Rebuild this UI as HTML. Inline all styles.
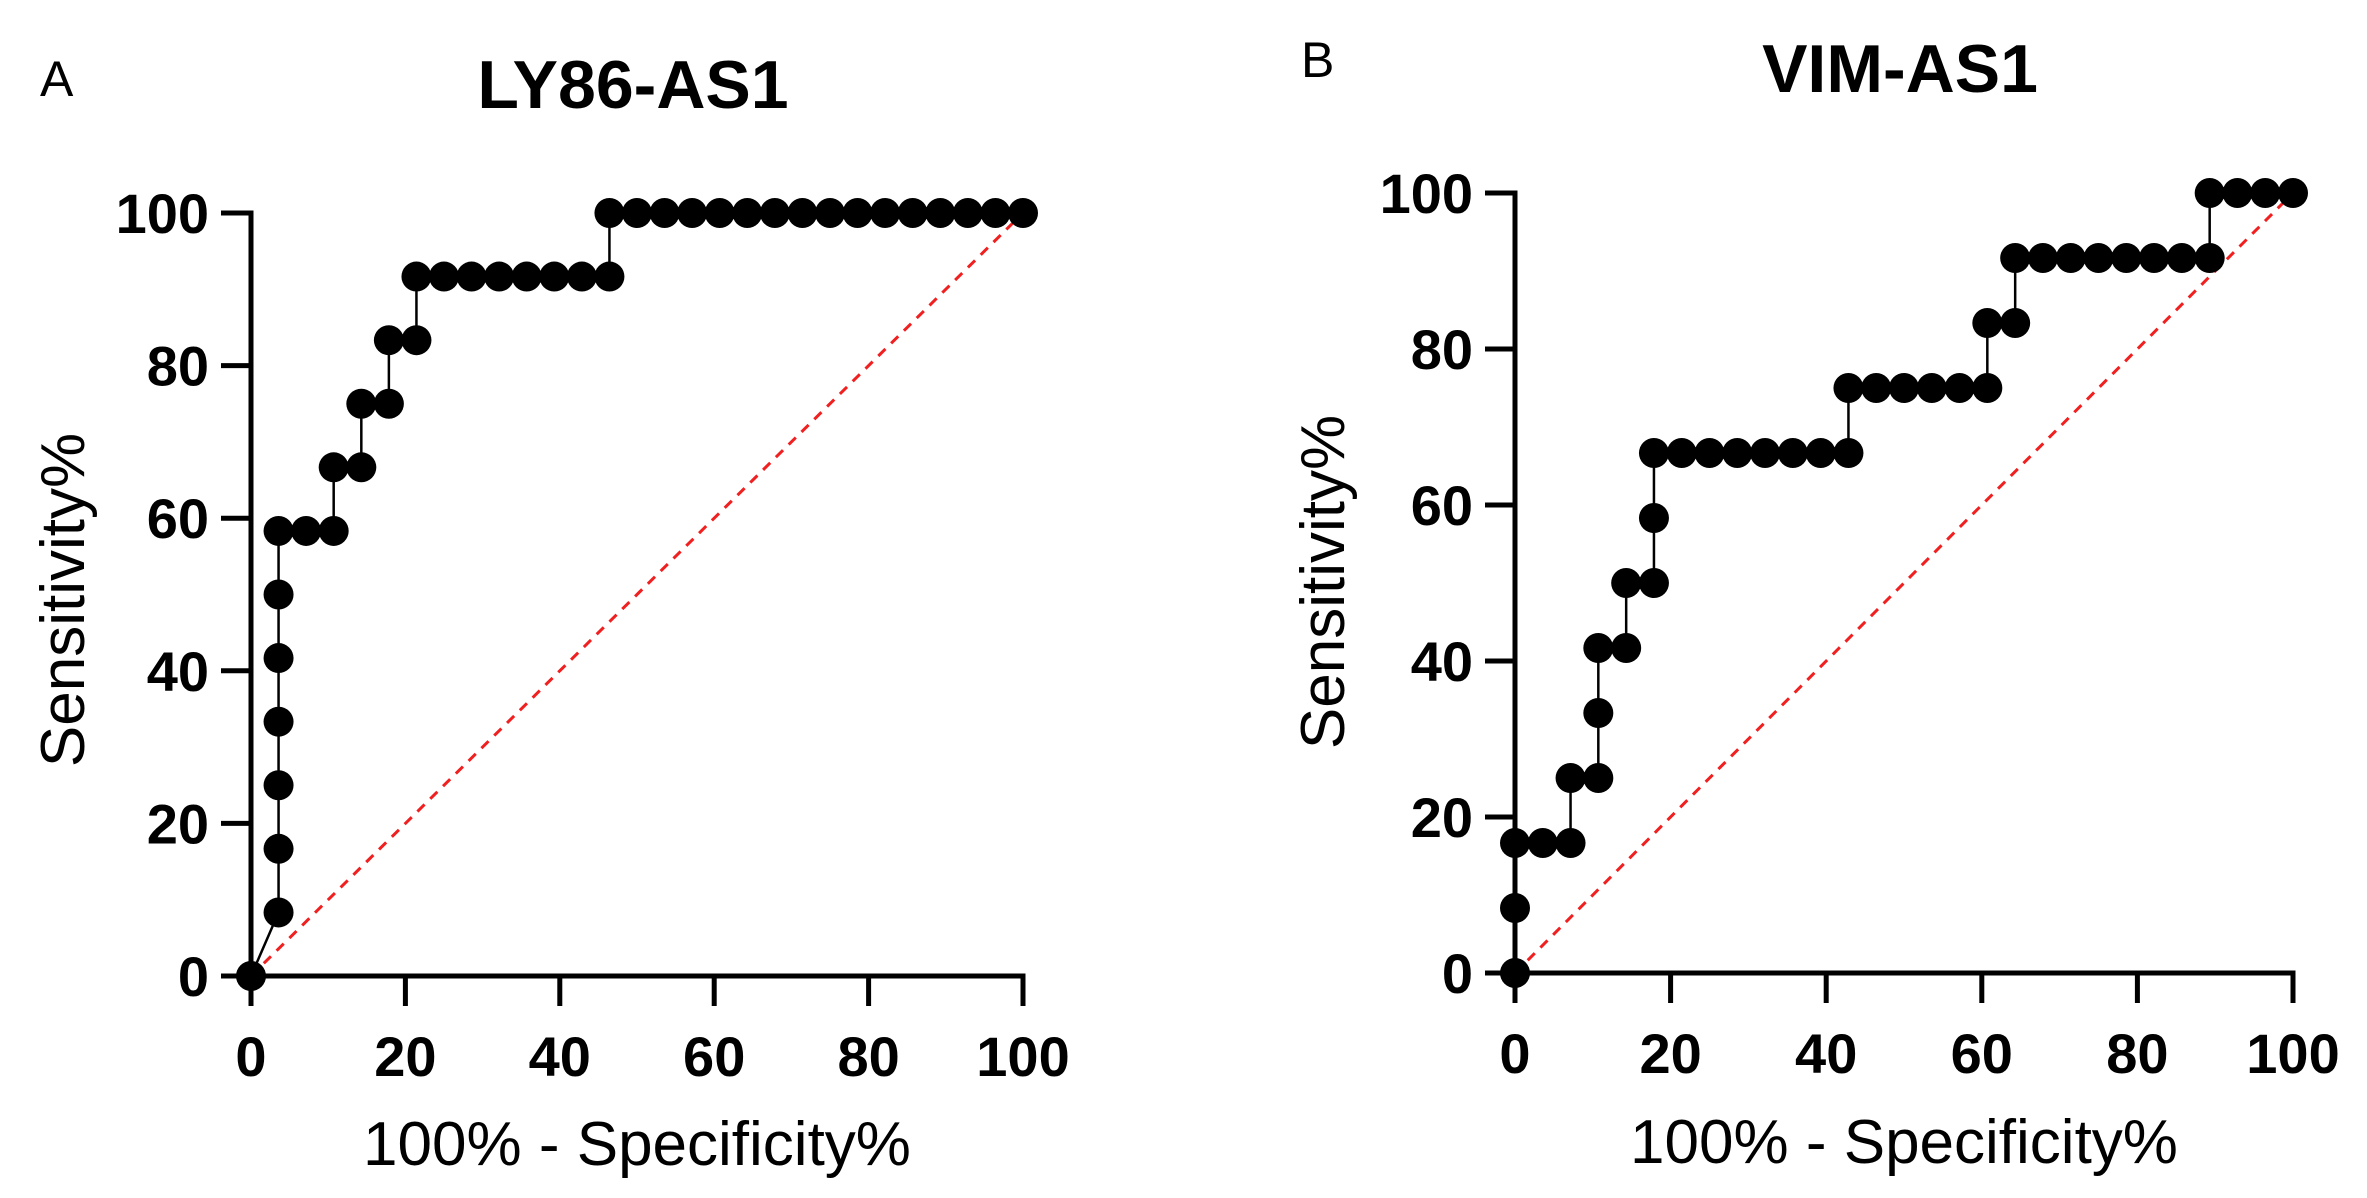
<!DOCTYPE html>
<html><head><meta charset="utf-8"><style>
html,body{margin:0;padding:0;background:#fff;}
svg{display:block;font-family:"Liberation Sans",Arial,sans-serif;}
</style></head><body>
<svg id="fig" width="2367" height="1198" viewBox="0 0 2367 1198" xmlns="http://www.w3.org/2000/svg">
<rect width="2367" height="1198" fill="#fff"/>
</svg>
<script>
const ticks = [0, 20, 40, 60, 80, 100];
const tickLabels = ["0", "20", "40", "60", "80", "100"];
const panelLetters = ["A", "B"];
const panelTitles = ["LY86-AS1", "VIM-AS1"];
const aX = [0, 3.57, 3.57, 3.57, 3.57, 3.57, 3.57, 3.57, 7.14, 10.71, 10.71, 14.29, 14.29, 17.86, 17.86, 21.43, 21.43, 25, 28.57, 32.14, 35.71, 39.29, 42.86, 46.43, 46.43, 50, 53.57, 57.14, 60.71, 64.29, 67.86, 71.43, 75, 78.57, 82.14, 85.71, 89.29, 92.86, 96.43, 100];
const aY = [0, 8.33, 16.67, 25, 33.33, 41.67, 50, 58.33, 58.33, 58.33, 66.67, 66.67, 75, 75, 83.33, 83.33, 91.67, 91.67, 91.67, 91.67, 91.67, 91.67, 91.67, 91.67, 100, 100, 100, 100, 100, 100, 100, 100, 100, 100, 100, 100, 100, 100, 100, 100];
const bX = [0, 0, 0, 3.57, 7.14, 7.14, 10.71, 10.71, 10.71, 14.29, 14.29, 17.86, 17.86, 17.86, 21.43, 25, 28.57, 32.14, 35.71, 39.29, 42.86, 42.86, 46.43, 50, 53.57, 57.14, 60.71, 60.71, 64.29, 64.29, 67.86, 71.43, 75, 78.57, 82.14, 85.71, 89.29, 89.29, 92.86, 96.43, 100];
const bY = [0, 8.33, 16.67, 16.67, 16.67, 25, 25, 33.33, 41.67, 41.67, 50, 50, 58.33, 66.67, 66.67, 66.67, 66.67, 66.67, 66.67, 66.67, 66.67, 75, 75, 75, 75, 75, 75, 83.33, 83.33, 91.67, 91.67, 91.67, 91.67, 91.67, 91.67, 91.67, 91.67, 100, 100, 100, 100];

const NS = "http://www.w3.org/2000/svg";
const svg = document.getElementById("fig");
function mk(tag, attrs, parent) {
  const e = document.createElementNS(NS, tag);
  for (const k in attrs) e.setAttribute(k, attrs[k]);
  (parent || svg).appendChild(e);
  return e;
}
const panels = [
  {x0: 251, x1: 1023, y0: 976, y1: 213, xs: aX, ys: aY, letter: [40, 96], title: [633, 108], ytl: [62, 600], xtl: [637, 1165], name: "ly86"},
  {x0: 1515, x1: 2293, y0: 973, y1: 193, xs: bX, ys: bY, letter: [1301, 77], title: [1900, 92], ytl: [1322, 582], xtl: [1904, 1163], name: "vim"}
];
panels.forEach((p, i) => {
  const g = mk("g", {});
  
  
  const sx = v => p.x0 + (p.x1 - p.x0) * v / 100;
  const sy = v => p.y0 + (p.y1 - p.y0) * v / 100;
  const lt = mk("text", {x: p.letter[0], y: p.letter[1], "font-size": 50, fill: "#000"}, g);
  lt.textContent = panelLetters[i];
  
  
  const tt = mk("text", {x: p.title[0], y: p.title[1], "font-size": 68, "font-weight": "bold", "text-anchor": "middle", fill: "#000"}, g);
  tt.textContent = panelTitles[i];
  
  
  const d = mk("line", {x1: sx(0), y1: sy(0), x2: sx(100), y2: sy(100), stroke: "#f02020", "stroke-width": 3, "stroke-dasharray": "10 8"}, g);
  
  
  const ya = mk("line", {x1: p.x0, y1: p.y0 + 2, x2: p.x0, y2: p.y1 - 2.5, stroke: "#000", "stroke-width": 5}, g);
  
  
  const xa = mk("line", {x1: p.x0 - 2.5, y1: p.y0, x2: p.x1 + 2.5, y2: p.y0, stroke: "#000", "stroke-width": 5}, g);
  
  
  ticks.forEach((t, k) => {
    const ty = sy(t), tx = sx(t);
    const yt = mk("line", {x1: p.x0 - 30, y1: ty, x2: p.x0, y2: ty, stroke: "#000", "stroke-width": 5}, g);
    
    
    const xt = mk("line", {x1: tx, y1: p.y0, x2: tx, y2: p.y0 + 30, stroke: "#000", "stroke-width": 5}, g);
    
    
    const yl = mk("text", {x: p.x0 - 42, y: ty + 20, "font-size": 56, "font-weight": "bold", "text-anchor": "end", fill: "#000"}, g);
    yl.textContent = tickLabels[k];
    
    
    const xl = mk("text", {x: tx, y: p.y0 + 100, "font-size": 56, "font-weight": "bold", "text-anchor": "middle", fill: "#000"}, g);
    xl.textContent = tickLabels[k];
    
    
  });
  const yT = mk("text", {x: 0, y: 0, "font-size": 62, "text-anchor": "middle", fill: "#000", transform: `translate(${p.ytl[0] + 22},${p.ytl[1]}) rotate(-90)`}, g);
  yT.textContent = "Sensitivity%";
  
  
  const xT = mk("text", {x: p.xtl[0], y: p.xtl[1], "font-size": 62, "text-anchor": "middle", fill: "#000"}, g);
  xT.textContent = "100% - Specificity%";
  
  
  const pts = p.xs.map((v, k) => sx(v) + "," + sy(p.ys[k])).join(" ");
  const pl = mk("polyline", {points: pts, fill: "none", stroke: "#000", "stroke-width": 2.5}, g);
  
  
  p.xs.forEach((v, k) => {
    const c = mk("circle", {cx: sx(v), cy: sy(p.ys[k]), r: 15, fill: "#000"}, g);
    
    
  });
});
</script>
</body></html>
